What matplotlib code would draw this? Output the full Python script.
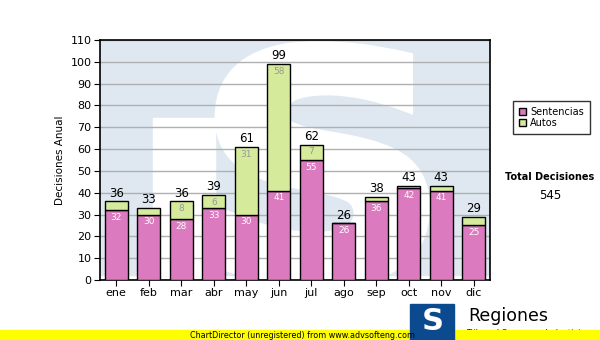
import matplotlib.pyplot as plt
from matplotlib.patches import Rectangle, PathPatch
from matplotlib.textpath import TextPath
from matplotlib.font_manager import FontProperties
from matplotlib.transforms import Affine2D

meses = ["ene", "feb", "mar", "abr", "may", "jun", "jul", "ago", "sep", "oct", "nov", "dic"]
sentencias = [32, 30, 28, 33, 30, 41, 55, 26, 36, 42, 41, 25]
autos = [4, 3, 8, 6, 31, 58, 7, 0, 2, 1, 2, 4]
totales = [s + a for s, a in zip(sentencias, autos)]

rosa = "#db7abe"
verde = "#d5eb9b"
azul_claro = "#dfe8f1"

fig = plt.figure(figsize=(6, 3.4), dpi=100)
ax = fig.add_axes([100/600, 1-280/340, 390/600, 240/340])
ax.set_xlim(-0.5, 11.5)
ax.set_ylim(0, 110)

# marca de agua: logo "TS" claro detras de las barras
ax.add_patch(Rectangle((0, 0.021), 1, 0.979, transform=ax.transAxes, color=azul_claro, zorder=0))
ax.add_patch(Rectangle((0.136, 0.021), 0.16, 0.654, transform=ax.transAxes, color="white", zorder=0))
tp = TextPath((0, 0), "S", size=1, prop=FontProperties(family="DejaVu Sans", weight="bold"))
bb = tp.get_extents()
sx = 0.52 / bb.width
sy = 0.97 / bb.height
tr = Affine2D().translate(-bb.x0, -bb.y0).scale(sx, sy).translate(0.31, 0.0)
ax.add_patch(PathPatch(tr.transform_path(tp), transform=ax.transAxes, facecolor="white",
                       edgecolor="white", lw=9, zorder=0))
ax.patches[-1].set_clip_on(True)

ax.yaxis.grid(True, color="#b0b0b0", linewidth=1, zorder=1)
ax.set_axisbelow(True)

x = range(len(meses))
ax.bar(x, sentencias, width=0.7, color=rosa, edgecolor="black", linewidth=1, zorder=3, label="Sentencias")
ax.bar(x, autos, width=0.7, bottom=sentencias, color=verde, edgecolor="black", linewidth=1, zorder=3, label="Autos")

for i in x:
    ax.text(i, totales[i] + 0.8, str(totales[i]), ha="center", va="bottom", fontsize=8.5, zorder=4)
    ax.text(i, sentencias[i] - 1.2, str(sentencias[i]), ha="center", va="top", fontsize=6.5, color="white", zorder=4)
    if autos[i] >= 5:
        ax.text(i, totales[i] - 1.2, str(autos[i]), ha="center", va="top", fontsize=6.5, color="#999999", zorder=4)

ax.set_xticks(list(x))
ax.set_xticklabels(meses, fontsize=8)
ax.set_yticks(range(0, 111, 10))
ax.tick_params(axis="y", labelsize=8, length=4, pad=2)
ax.tick_params(axis="x", length=4, pad=2)
ax.set_ylabel("Decisiones Anual", fontsize=7.5, labelpad=4)
for s in ax.spines.values():
    s.set_linewidth(1.2)

leg = fig.legend(loc="upper left", bbox_to_anchor=(508/600, 1-96/340), fontsize=7,
                 frameon=True, fancybox=False, edgecolor="black", handlelength=0.8,
                 handleheight=0.8, borderpad=0.6, labelspacing=0.1, handletextpad=0.4)
leg.get_frame().set_linewidth(1)

fig.text(550/600, 1-177/340, "Total Decisiones", ha="center", va="center", fontsize=7, fontweight="bold")
fig.text(550/600, 1-196/340, str(sum(totales)), ha="center", va="center", fontsize=8.5)

# logo y banda inferior
fig.patches.append(Rectangle((0, 0), 1, 10/340, transform=fig.transFigure, color="#ffff00", zorder=5))
fig.text(190/600, 5/340, "ChartDirector (unregistered) from www.advsofteng.com", fontsize=5.8, va="center", zorder=6)
fig.patches.append(Rectangle((410/600, 0), 44/600, 36/340, transform=fig.transFigure, color="#0b4a8f", zorder=6))
fig.text(433/600, 18/340, "S", fontsize=22, fontweight="bold", color="white", ha="center", va="center", zorder=7)
fig.text(468/600, 1-316/340, "Regiones", fontsize=12.5, va="center", zorder=6)
fig.text(466/600, 1-334/340, "Tribunal Supremo de Justicia", fontsize=6, va="center", zorder=4)

fig.savefig("out.png")
